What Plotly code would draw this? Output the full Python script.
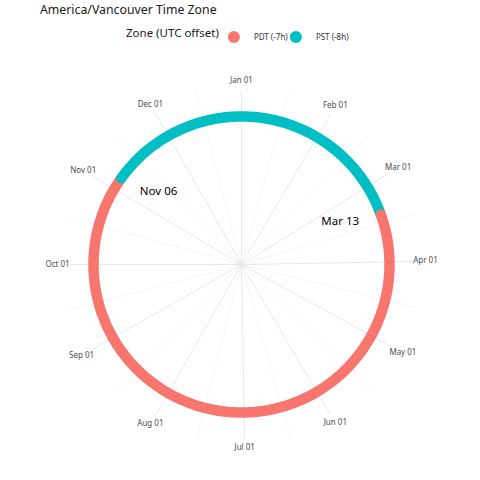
import plotly.graph_objects as go
import pandas as pd

# ---- data ----
year_start = "2022-01-01"
year_end = "2022-12-31"
dst_start = "2022-03-13"   # PST -> PDT
dst_end = "2022-11-06"     # PDT -> PST
zone_names = ["PDT (-7h)", "PST (-8h)"]
zone_colors = ["#F8766D", "#00BFC4"]
month_labels = ["Jan 01", "Feb 01", "Mar 01", "Apr 01", "May 01", "Jun 01",
                "Jul 01", "Aug 01", "Sep 01", "Oct 01", "Nov 01", "Dec 01"]
transition_dates = [dst_start, dst_end]
transition_labels = ["Mar 13", "Nov 06"]
transition_textpos = ["middle left", "middle right"]

# ---- scales ----
days = pd.date_range(year_start, year_end, freq="D")
span = (days[-1] - days[0]).days


def ang(d):
    return (pd.Timestamp(d) - days[0]).days / span * 360.0


month_starts = pd.date_range(year_start, periods=12, freq="MS")
major = [ang(d) for d in month_starts]
major_ext = major + [360.0]
minor = [(major_ext[i] + major_ext[i + 1]) / 2 for i in range(12)]

CX, CY = 241.5, 264.5
R_MAX = 190
RING_R = 148
MAJOR_R = 174
MINOR_R = 180
TICK_R = 184
LABEL_R = 125

pdt_days = [d for d in days if pd.Timestamp(dst_start) <= d <= pd.Timestamp(dst_end)]
pst_days = [d for d in days if d >= pd.Timestamp(dst_end)] + \
           [d for d in days if d <= pd.Timestamp(dst_start)]

fig = go.Figure()

# grid lines
for a in minor:
    fig.add_trace(go.Scatterpolar(r=[0, MINOR_R], theta=[a, a], mode="lines",
                                  line=dict(color="#F0F0F0", width=0.7),
                                  showlegend=False, hoverinfo="skip"))
for a in major:
    fig.add_trace(go.Scatterpolar(r=[0, MAJOR_R], theta=[a, a], mode="lines",
                                  line=dict(color="#E8E8E8", width=1),
                                  showlegend=False, hoverinfo="skip"))

# ring
fig.add_trace(go.Scatterpolar(r=[RING_R] * len(pdt_days), theta=[ang(d) for d in pdt_days],
                              mode="lines", line=dict(color=zone_colors[0], width=10.5),
                              showlegend=False, hoverinfo="skip"))
fig.add_trace(go.Scatterpolar(r=[RING_R] * len(pst_days), theta=[ang(d) for d in pst_days],
                              mode="lines", line=dict(color=zone_colors[1], width=10.5),
                              showlegend=False, hoverinfo="skip"))
# round caps (also legend entries)
fig.add_trace(go.Scatterpolar(r=[RING_R], theta=[ang(dst_end)], mode="markers",
                              marker=dict(color=zone_colors[1], size=10.5),
                              name=zone_names[1], legendrank=2))
fig.add_trace(go.Scatterpolar(r=[RING_R], theta=[ang(dst_start)], mode="markers",
                              marker=dict(color=zone_colors[0], size=10.5),
                              name=zone_names[0], legendrank=1))

# transition labels
fig.add_trace(go.Scatterpolar(r=[LABEL_R] * 2, theta=[ang(d) for d in transition_dates],
                              mode="text", text=transition_labels,
                              textposition=transition_textpos,
                              textfont=dict(size=11.5, color="#000000"),
                              showlegend=False, hoverinfo="skip"))

# month tick labels
fig.add_trace(go.Scatterpolar(r=[TICK_R] * 12, theta=major, mode="text",
                              text=month_labels, textposition="middle center",
                              textfont=dict(size=8, color="#4D4D4D"),
                              cliponaxis=False, showlegend=False, hoverinfo="skip"))

fig.update_layout(
    width=480, height=480,
    margin=dict(l=0, r=0, t=0, b=0, autoexpand=False),
    paper_bgcolor="white",
    font=dict(family="Noto Sans", color="#333333"),
    title=dict(text="America/Vancouver Time Zone", x=40 / 480, xanchor="left",
               y=1 - 10 / 480, yanchor="middle", yref="container",
               font=dict(size=12.3, color="#1a1a1a")),
    legend=dict(orientation="h", x=124 / 480, xanchor="left", y=1 - 37 / 480,
                yanchor="middle", itemsizing="constant", entrywidth=30,
                indentation=-13,
                title=dict(text="Zone (UTC offset)", side="left",
                           font=dict(size=11.5, color="#1a1a1a")),
                font=dict(size=8, color="#333333")),
    polar=dict(
        domain=dict(x=[(CX - R_MAX) / 480, (CX + R_MAX) / 480],
                    y=[1 - (CY + R_MAX) / 480, 1 - (CY - R_MAX) / 480]),
        bgcolor="white",
        radialaxis=dict(range=[0, R_MAX], visible=False),
        angularaxis=dict(thetaunit="degrees", rotation=90, direction="clockwise",
                         showline=False, ticks="", showgrid=False,
                         showticklabels=False),
    ),
)

fig.write_html("out.html", post_script="document.body.style.margin='0';",
               config={"displayModeBar": False})
